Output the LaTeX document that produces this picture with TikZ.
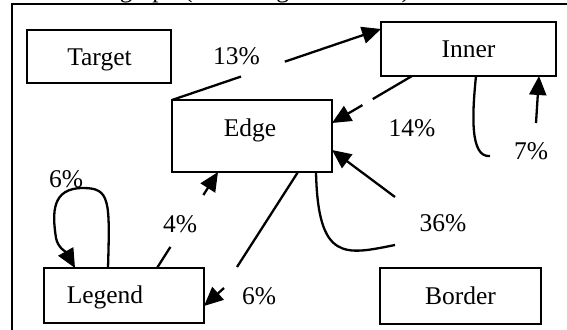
\documentclass[tikz,border=0pt]{standalone}
\usepackage{fontspec}
\setmainfont{Liberation Serif}
\usetikzlibrary{arrows.meta,calc}
\begin{document}
\begin{tikzpicture}[x=1pt,y=-1pt,
  box/.style={draw,line width=1.3pt,rectangle,inner sep=0pt,outer sep=0pt},
  txt/.style={font=\fontsize{25.5}{30}\selectfont,text height=17pt,text depth=0pt,inner sep=0pt},
  conn/.style={line width=2.3pt},
  tip/.style={-{Triangle[length=19pt,width=17pt]}},
]
\useasboundingbox (0,0) rectangle (567,329);
\fill[white] (0,0) rectangle (567,329);
\clip (0,0) rectangle (567,329);
\node[txt,anchor=base west] (title) at (58,-2) {Node graph (incoming transitions)};
\draw[line width=2.4pt] (12,4) rectangle (620,380);

% nodes
\node[box,minimum width=144pt,minimum height=53pt,label={[txt,xshift=0.5pt]center:Target}] (target) at (99,56.5) {};
\node[box,minimum width=175pt,minimum height=54pt,label={[txt]center:Inner}] (inner) at (468.5,49) {};
\node[box,minimum width=160pt,minimum height=72pt,label={[txt,xshift=-2pt,yshift=8pt]center:Edge}] (edge) at (252,136) {};
\node[box,minimum width=160pt,minimum height=55pt,label={[txt,xshift=-19pt,yshift=1pt]center:Legend}] (legend) at (124,295.5) {};
\node[box,minimum width=161pt,minimum height=56pt,label={[txt]center:Border}] (border) at (460.5,296) {};

% Edge -> Inner (13%)
\coordinate (t13) at ($(inner.north west)+(0,7)$);
\draw[conn] (edge.north west) -- ($(edge.north west)!0.33!(t13)$);
\draw[conn,tip] ($(edge.north west)!0.54!(t13)$) -- (t13);
\node[txt] (l13) at (236.5,56) {13\%};

% Inner -> Edge (14%)
\coordinate (s14) at ($(inner.south west)+(31,0)$);
\coordinate (t14) at ($(edge.north east)+(0,23)$);
\draw[conn] (s14) -- ($(s14)!0.49!(t14)$);
\draw[conn,tip] ($(s14)!0.62!(t14)$) -- (t14);
\node[txt] (l14) at (412,127.5) {14\%};

% Inner loop (7%)
\coordinate (s7) at ($(inner.south west)+(95,0)$);
\coordinate (e7) at (490,156);
\draw[conn] (s7) .. controls (472,115) and (470,158) .. (e7);
\coordinate (b7) at (536,123);
\coordinate (t7) at ($(inner.south west)+(158,0)$);
\draw[conn,tip] (b7) -- (t7);
\node[txt] (l7) at (531,151) {7\%};

% Edge loop (36%)
\coordinate (s36) at ($(edge.south west)+(144,0)$);
\coordinate (e36) at (395,245);
\draw[conn] (s36) .. controls (318,262) and (345,255) .. (e36);
\coordinate (b36) at (395,197);
\coordinate (t36) at ($(edge.north east)+(0,50)$);
\draw[conn,tip] (b36) -- (t36);
\node[txt] (l36) at (443,223) {36\%};

% Edge -> Legend (6%)
\coordinate (s6) at ($(edge.south west)+(126,0)$);
\coordinate (c6) at (237,267);
\draw[conn] (s6) -- (c6);
\coordinate (b6) at (224,288);
\coordinate (t6) at ($(legend.north east)+(0,38)$);
\draw[conn,tip] (b6) -- (t6);
\node[txt] (l6b) at (259,296) {6\%};

% Legend -> Edge (4%)
\coordinate (s4) at ($(legend.north west)+(113,0)$);
\coordinate (t4) at ($(edge.south west)+(46,0)$);
\draw[conn] (s4) -- ($(s4)!0.22!(t4)$);
\draw[conn,tip] ($(s4)!0.76!(t4)$) -- (t4);
\node[txt] (l4) at (180,224) {4\%};

% Legend loop (6%)
\coordinate (s6l) at ($(legend.north west)+(64,0)$);
\coordinate (t6l) at ($(legend.north west)+(31,0)$);
\draw[conn,tip] (s6l) .. controls (110,200) and (110,188) .. (83,188)
  .. controls (52,188) and (52,212) .. (56,238)
  .. controls (58,248) and (66,252) .. (t6l);
\node[txt] (l6a) at (66,178.5) {6\%};
\end{tikzpicture}
\end{document}
